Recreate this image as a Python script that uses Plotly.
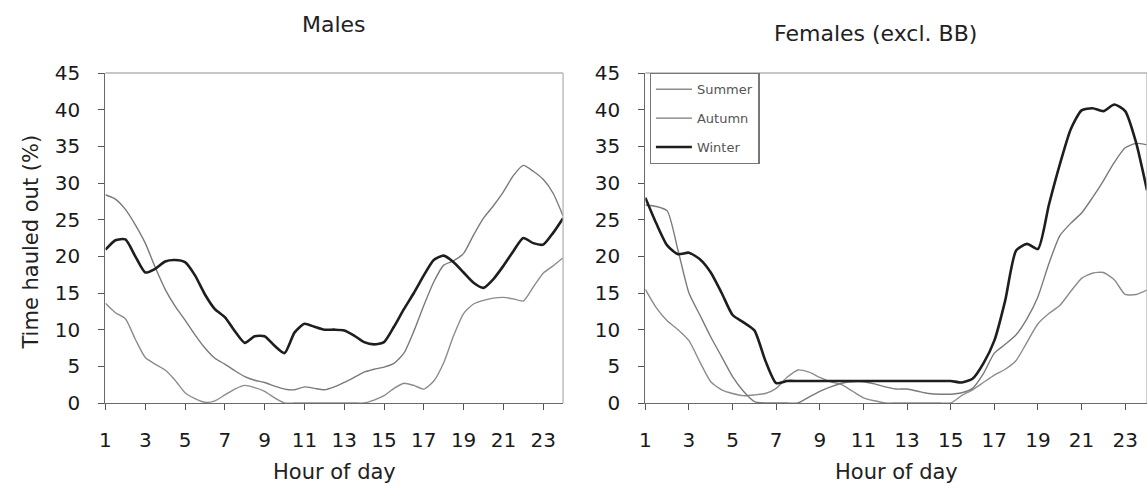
import plotly.graph_objects as go

# hours of day, half-hour steps
hours = [1 + 0.5 * i for i in range(47)]

# ---- Males ----
male_summer = [13.6, 12.3, 11.5, 8.7, 6.2, 5.3, 4.5, 3.1, 1.4, 0.6, 0.1, 0.3, 1.1, 1.9, 2.4, 2.1,
               1.6, 0.7, 0.0, 0.0, 0.0, 0.0, 0.0, 0.0, 0.0, 0.0, 0.0, 0.4, 1.0, 2.0, 2.7, 2.4,
               1.9, 3.0, 5.5, 9.2, 12.2, 13.5, 14.0, 14.3, 14.4, 14.2, 13.9, 15.8, 17.7, 18.7, 19.8]
male_autumn = [28.4, 27.8, 26.4, 24.3, 21.8, 18.5, 15.5, 13.2, 11.3, 9.3, 7.5, 6.1, 5.3, 4.4, 3.6, 3.1,
               2.8, 2.3, 1.9, 1.8, 2.2, 2.0, 1.8, 2.2, 2.8, 3.5, 4.2, 4.6, 4.9, 5.4, 6.8, 9.8,
               13.3, 16.5, 18.8, 19.4, 20.4, 22.9, 25.2, 26.9, 28.8, 31.0, 32.4, 31.6, 30.5, 28.6, 25.5]
male_winter = [20.9, 22.2, 22.3, 20.0, 17.8, 18.3, 19.3, 19.5, 19.2, 17.4, 14.8, 12.8, 11.7, 9.8, 8.2, 9.1,
               9.1, 7.8, 6.8, 9.6, 10.8, 10.4, 10.0, 10.0, 9.9, 9.2, 8.3, 8.0, 8.3, 10.4, 12.8, 15.0,
               17.4, 19.5, 20.1, 19.2, 17.8, 16.4, 15.7, 16.9, 18.7, 20.7, 22.5, 21.8, 21.6, 23.2, 25.2]

# ---- Females (excl. BB) ----
female_summer = [15.5, 13.0, 11.2, 10.0, 8.5, 5.6, 2.9, 1.8, 1.3, 1.0, 1.1, 1.3, 2.0, 3.5, 4.5, 4.2,
                 3.5, 2.9, 2.5, 1.6, 0.7, 0.3, 0.0, 0.0, 0.0, 0.0, 0.0, 0.0, 0.0, 1.0, 1.8, 2.8,
                 3.8, 4.6, 5.8, 8.3, 10.8, 12.2, 13.3, 15.2, 17.0, 17.7, 17.8, 16.8, 14.8, 14.8, 15.4]
female_autumn = [27.0, 26.8, 26.2, 20.8, 15.0, 12.0, 9.0, 6.3, 3.6, 1.6, 0.2, 0.0, 0.0, 0.0, 0.0, 0.8,
                 1.6, 2.2, 2.7, 2.9, 2.9, 2.6, 2.2, 1.9, 1.9, 1.6, 1.3, 1.2, 1.2, 1.4, 2.0, 4.0,
                 6.8, 8.0, 9.3, 11.5, 14.5, 19.0, 22.8, 24.5, 25.9, 28.0, 30.3, 32.8, 34.8, 35.4, 35.2]
female_winter = [28.0, 24.5, 21.5, 20.3, 20.5, 19.6, 17.8, 15.0, 12.0, 11.0, 9.9, 5.8, 2.7, 3.0, 3.0, 3.0,
                 3.0, 3.0, 3.0, 3.0, 3.0, 3.0, 3.0, 3.0, 3.0, 3.0, 3.0, 3.0, 3.0, 2.8, 3.3, 5.4,
                 8.5, 14.0, 20.8, 21.7, 21.0, 27.0, 32.5, 37.3, 39.9, 40.2, 39.8, 40.7, 39.8, 35.5, 29.0]

series_names = ["Summer", "Autumn", "Winter"]
x_tick_vals = list(range(1, 24, 2))
x_tick_text = [str(v) for v in x_tick_vals]
y_tick_vals = list(range(0, 46, 5))

styles = {
    "Summer": dict(color="#8c8c8c", width=1.4, shape="spline", smoothing=0.6),
    "Autumn": dict(color="#7a7a7a", width=1.4, shape="spline", smoothing=0.6),
    "Winter": dict(color="#1e1e1e", width=2.6, shape="spline", smoothing=0.6),
}

fig = go.Figure()
male = [male_summer, male_autumn, male_winter]
female = [female_summer, female_autumn, female_winter]
for name, vals in zip(series_names, male):
    fig.add_trace(go.Scatter(x=hours, y=vals, mode="lines", name=name, line=styles[name],
                             xaxis="x", yaxis="y", showlegend=False, legendgroup=name))
for name, vals in zip(series_names, female):
    fig.add_trace(go.Scatter(x=hours, y=vals, mode="lines", name=name, line=styles[name],
                             xaxis="x2", yaxis="y2", showlegend=True, legendgroup=name))

W, H = 1147, 495
font = "DejaVu Sans"
axis_common = dict(showgrid=False, zeroline=False, showline=True, linecolor="#6a6a6a", linewidth=1.3,
                   ticks="outside", ticklen=6, tickcolor="#555", tickwidth=1.2,
                   tickfont=dict(family=font, size=20, color="#1a1a1a"))
fig.update_layout(
    width=W, height=H,
    margin=dict(l=0, r=0, t=73, b=92),
    paper_bgcolor="white", plot_bgcolor="white",
    xaxis=dict(domain=[100 / W, 560 / W], range=[1, 24], tickvals=x_tick_vals, ticktext=x_tick_text,
               ticklabelstandoff=13, anchor="y", **axis_common),
    yaxis=dict(domain=[0, 1], range=[0, 45], tickvals=y_tick_vals, ticklabelstandoff=14,
               anchor="x", **axis_common),
    xaxis2=dict(domain=[642.7 / W, 1.0], range=[1, 24], tickvals=x_tick_vals, ticktext=x_tick_text,
                ticklabelstandoff=13, anchor="y2", **axis_common),
    yaxis2=dict(domain=[0, 1], range=[0, 45], tickvals=y_tick_vals, ticklabelstandoff=14,
                anchor="x2", **axis_common),
    legend=dict(x=647 / W, y=1.0, xanchor="left", yanchor="top", traceorder="grouped",
                tracegroupgap=9, bgcolor="white", bordercolor="#777", borderwidth=1.3,
                font=dict(family=font, size=13, color="#555"), itemwidth=36),
    showlegend=True,
)

# top/right border of each plot area
for xr, yr in [("x domain", "y domain"), ("x2 domain", "y2 domain")]:
    fig.add_shape(type="line", xref=xr, yref=yr, x0=0, x1=1, y0=1, y1=1,
                  line=dict(color="#b5b5b5", width=1.3))
    fig.add_shape(type="line", xref=xr, yref=yr, x0=1, x1=1, y0=0, y1=1,
                  line=dict(color="#b5b5b5", width=1.3))

title_font = dict(family=font, size=22, color="#222")
axis_title_font = dict(family=font, size=21, color="#222")
ann = [
    dict(text="Males", x=330 / W, y=(403.3 - 25) / 330, font=title_font),
    dict(text="Females (excl. BB)", x=874 / W, y=(403.3 - 34) / 330, font=title_font),
    dict(text="Hour of day", x=330 / W, y=(403.3 - 472) / 330, font=axis_title_font),
    dict(text="Hour of day", x=895 / W, y=(403.3 - 472) / 330, font=axis_title_font),
    dict(text="Time hauled out (%)", x=25 / W, y=(403.3 - 242) / 330, font=axis_title_font,
         textangle=-90),
]
for a in ann:
    fig.add_annotation(showarrow=False, xanchor="center", yanchor="middle",
                       xref="paper", yref="paper", **a)

fig.write_html("out.html", config={"displayModeBar": False},
               post_script="document.body.style.margin='0';")
